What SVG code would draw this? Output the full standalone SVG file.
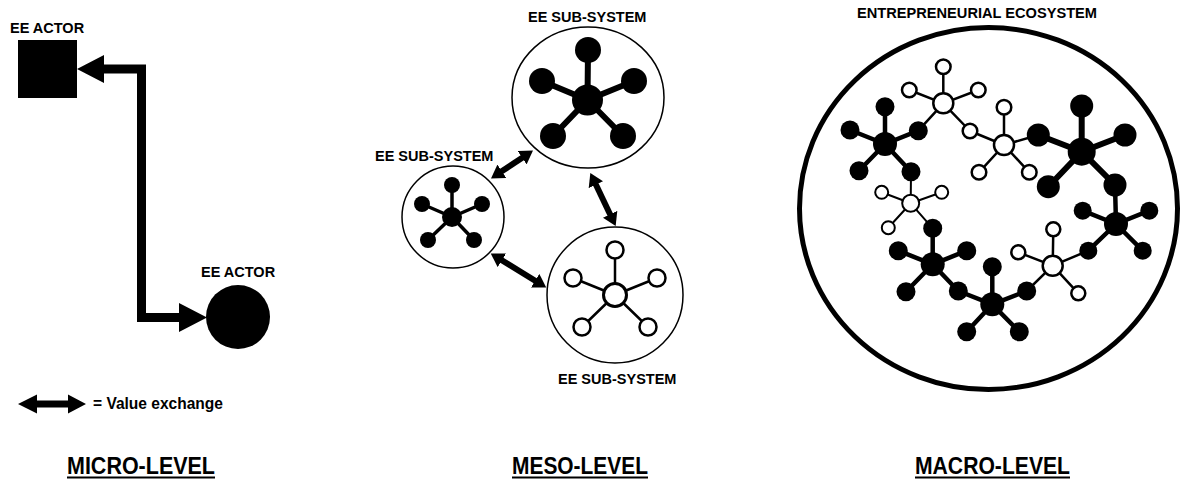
<svg xmlns="http://www.w3.org/2000/svg" width="1184" height="480" viewBox="0 0 1184 480">
  <defs>
    <style>
      .lbl { font-family: "Liberation Sans", Arial, sans-serif; font-weight: bold; font-size: 14.5px; fill: #000; }
      .lvl { font-family: "Liberation Sans", Arial, sans-serif; font-weight: bold; font-size: 23px; fill: #000; }
      .ring { fill: #fff; stroke: #000; stroke-width: 1.5; }
      .blk { fill: #000; }
      .wht { fill: #fff; stroke: #000; stroke-width: 2.5; }
      .sp-thick { stroke: #000; stroke-width: 4.5; stroke-linecap: round; fill: none; }
      .sp-big { stroke: #000; stroke-width: 6; stroke-linecap: round; fill: none; }
      .sp-thin { stroke: #000; stroke-width: 2.5; stroke-linecap: round; fill: none; }
      .sp-fine { stroke: #000; stroke-width: 2; stroke-linecap: round; fill: none; }
      .xchg { stroke: #000; stroke-width: 6; fill: none; marker-start: url(#head); marker-end: url(#head); }
    </style>
    <marker id="head" markerUnits="userSpaceOnUse" markerWidth="14" markerHeight="16" refX="1" refY="8" orient="auto-start-reverse" viewBox="0 0 14 16">
      <path d="M0,0 L13,8 L0,16 Z" fill="#000"/>
    </marker>
  </defs>

  <rect width="1184" height="480" fill="#fff"/>

  <!-- ===== MICRO LEVEL ===== -->
  <g id="micro-actor-square">
    <rect x="18" y="40" width="59" height="58" class="blk"/>
    <text class="lbl" x="10" y="33">EE ACTOR</text>
  </g>
  <g id="micro-actor-circle">
    <circle cx="238" cy="317" r="32" class="blk"/>
    <text class="lbl" x="201" y="277">EE ACTOR</text>
  </g>

  <g id="legend">
    <polygon points="18,404 37,394.5 37,400.5 68,400.5 68,394.5 86,404 68,413.5 68,407.5 37,407.5 37,413.5" fill="#000"/>
    <text class="lbl" x="93" y="409" style="font-size:16px" textLength="130" lengthAdjust="spacingAndGlyphs">= Value exchange</text>
  </g>

  <!-- ===== MESO LEVEL ===== -->
  <g id="meso-top">
    <ellipse cx="588" cy="97.5" rx="76" ry="70.5" class="ring"/>
    <g class="sp-big">
      <line x1="587.5" y1="100" x2="588" y2="50"/>
      <line x1="587.5" y1="100" x2="542" y2="81"/>
      <line x1="587.5" y1="100" x2="634" y2="81"/>
      <line x1="587.5" y1="100" x2="553" y2="136"/>
      <line x1="587.5" y1="100" x2="623" y2="136"/>
    </g>
    <circle cx="587.5" cy="100" r="15.5" class="blk"/>
    <circle cx="588" cy="50" r="13" class="blk"/>
    <circle cx="542" cy="81" r="13" class="blk"/>
    <circle cx="634" cy="81" r="13" class="blk"/>
    <circle cx="553" cy="136" r="13" class="blk"/>
    <circle cx="623" cy="136" r="13" class="blk"/>
    <text class="lbl" x="528" y="22">EE SUB-SYSTEM</text>
  </g>

  <g id="meso-left">
    <circle cx="453" cy="217" r="51" class="ring"/>
    <g class="sp-thick" style="stroke-width:3.5">
      <line x1="452" y1="217" x2="452" y2="185"/>
      <line x1="452" y1="217" x2="422" y2="204"/>
      <line x1="452" y1="217" x2="482" y2="204"/>
      <line x1="452" y1="217" x2="428" y2="240"/>
      <line x1="452" y1="217" x2="474" y2="240"/>
    </g>
    <circle cx="452" cy="217" r="10" class="blk"/>
    <circle cx="452" cy="185" r="8" class="blk"/>
    <circle cx="422" cy="204" r="8" class="blk"/>
    <circle cx="482" cy="204" r="8" class="blk"/>
    <circle cx="428" cy="240" r="8" class="blk"/>
    <circle cx="474" cy="240" r="8" class="blk"/>
    <text class="lbl" x="375" y="161">EE SUB-SYSTEM</text>
  </g>

  <g id="meso-bottom">
    <circle cx="615" cy="295" r="68" class="ring"/>
    <g class="sp-thin">
      <line x1="615" y1="295" x2="615" y2="250"/>
      <line x1="615" y1="295" x2="573" y2="278"/>
      <line x1="615" y1="295" x2="657" y2="278"/>
      <line x1="615" y1="295" x2="582" y2="327"/>
      <line x1="615" y1="295" x2="648" y2="327"/>
    </g>
    <circle cx="615" cy="295" r="11.5" class="wht" style="stroke-width:3"/>
    <circle cx="615" cy="250" r="8.5" class="wht"/>
    <circle cx="573" cy="278" r="8.5" class="wht"/>
    <circle cx="657" cy="278" r="8.5" class="wht"/>
    <circle cx="582" cy="327" r="8.5" class="wht"/>
    <circle cx="648" cy="327" r="8.5" class="wht"/>
    <text class="lbl" x="558" y="384">EE SUB-SYSTEM</text>
  </g>

  <!-- ===== MACRO LEVEL ===== -->
  <g id="ecosystem-boundary">
    <ellipse cx="988.5" cy="208.5" rx="189" ry="181" fill="none" stroke="#000" stroke-width="5"/>
    <text class="lbl" x="857" y="18" textLength="240" lengthAdjust="spacingAndGlyphs">ENTREPRENEURIAL ECOSYSTEM</text>
  </g>

  <!-- value-exchange arrows and links -->
  <g id="connectors">
    <polygon id="micro-exchange" fill="#000" points="77,69 104,55 104,64.5 146,64.5 146,313 179,313 179,303 207,317.5 179,332 179,322 137,322 137,73.5 104,73.5 104,83"/>
    <line class="xchg" x1="501" y1="171.8" x2="523" y2="157.2"/>
    <line class="xchg" x1="595.5" y1="183.8" x2="610.5" y2="215.2"/>
    <line class="xchg" x1="501" y1="259.8" x2="536" y2="281.2"/>

    <!-- spokes inside the ecosystem -->
    <g class="sp-thick">
      <!-- A -->
      <line x1="885" y1="144" x2="885" y2="106.7"/>
      <line x1="885" y1="144" x2="850" y2="130"/>
      <line x1="885" y1="144" x2="918.3" y2="130.7"/>
      <line x1="885" y1="144" x2="859" y2="170.7"/>
      <line x1="885" y1="144" x2="911" y2="171.7"/>
      <!-- E -->
      <line x1="1116" y1="224" x2="1115" y2="185"/>
      <line x1="1116" y1="224" x2="1082.7" y2="210.7"/>
      <line x1="1116" y1="224" x2="1149.3" y2="210.7"/>
      <line x1="1116" y1="224" x2="1088.3" y2="250.7"/>
      <line x1="1116" y1="224" x2="1142.7" y2="250.7"/>
      <!-- G -->
      <line x1="992.3" y1="304.3" x2="992.3" y2="266.7"/>
      <line x1="992.3" y1="304.3" x2="958.3" y2="291"/>
      <line x1="992.3" y1="304.3" x2="1026.7" y2="291"/>
      <line x1="992.3" y1="304.3" x2="966.7" y2="331.7"/>
      <line x1="992.3" y1="304.3" x2="1019.3" y2="331.7"/>
      <!-- H -->
      <line x1="932.7" y1="264.3" x2="932.7" y2="228.3"/>
      <line x1="932.7" y1="264.3" x2="898.3" y2="250.7"/>
      <line x1="932.7" y1="264.3" x2="966.7" y2="250.7"/>
      <line x1="932.7" y1="264.3" x2="906" y2="291.7"/>
      <line x1="932.7" y1="264.3" x2="958.3" y2="291"/>
    </g>
    <g class="sp-big">
      <!-- D -->
      <line x1="1081.7" y1="151.7" x2="1081.7" y2="106"/>
      <line x1="1081.7" y1="151.7" x2="1038.3" y2="135"/>
      <line x1="1081.7" y1="151.7" x2="1125" y2="135"/>
      <line x1="1081.7" y1="151.7" x2="1048.3" y2="186.7"/>
      <line x1="1081.7" y1="151.7" x2="1115" y2="185"/>
    </g>
    <g class="sp-thin">
      <!-- B -->
      <line x1="943.3" y1="103.3" x2="943.3" y2="66.7"/>
      <line x1="943.3" y1="103.3" x2="909.3" y2="90"/>
      <line x1="943.3" y1="103.3" x2="978.3" y2="90"/>
      <line x1="943.3" y1="103.3" x2="970" y2="131"/>
      <line x1="943.3" y1="103.3" x2="918.3" y2="130.7"/>
      <!-- C -->
      <line x1="1004" y1="145" x2="1004" y2="107.3"/>
      <line x1="1004" y1="145" x2="970" y2="131"/>
      <line x1="1004" y1="145" x2="979" y2="172.3"/>
      <line x1="1004" y1="145" x2="1029.3" y2="172.3"/>
      <line x1="1004" y1="145" x2="1038.3" y2="135"/>
      <!-- F -->
      <line x1="1052.7" y1="265.7" x2="1053.3" y2="229.3"/>
      <line x1="1052.7" y1="265.7" x2="1018.3" y2="252.3"/>
      <line x1="1052.7" y1="265.7" x2="1078.3" y2="293.3"/>
      <line x1="1052.7" y1="265.7" x2="1088.3" y2="250.7"/>
      <line x1="1052.7" y1="265.7" x2="1026.7" y2="291"/>
    </g>
    <g class="sp-fine">
      <!-- I -->
      <line x1="910.7" y1="203.3" x2="911" y2="171.7"/>
      <line x1="910.7" y1="203.3" x2="881.7" y2="192.3"/>
      <line x1="910.7" y1="203.3" x2="941.7" y2="192.3"/>
      <line x1="910.7" y1="203.3" x2="888.3" y2="227.7"/>
      <line x1="910.7" y1="203.3" x2="932.7" y2="228.3"/>
    </g>
  </g>

  <g id="cluster-a">
    <circle cx="885" cy="144" r="12" class="blk"/>
    <circle cx="885" cy="106.7" r="9.5" class="blk"/>
    <circle cx="850" cy="130" r="9.5" class="blk"/>
    <circle cx="918.3" cy="130.7" r="9.5" class="blk"/>
    <circle cx="859" cy="170.7" r="9.5" class="blk"/>
    <circle cx="911" cy="171.7" r="9.5" class="blk"/>
  </g>
  <g id="cluster-b">
    <circle cx="943.3" cy="103.3" r="10" class="wht"/>
    <circle cx="943.3" cy="66.7" r="7.3" class="wht"/>
    <circle cx="909.3" cy="90" r="7.3" class="wht"/>
    <circle cx="978.3" cy="90" r="7.3" class="wht"/>
    <circle cx="970" cy="131" r="7.3" class="wht"/>
  </g>
  <g id="cluster-c">
    <circle cx="1004" cy="145" r="10" class="wht"/>
    <circle cx="1004" cy="107.3" r="7.3" class="wht"/>
    <circle cx="979" cy="172.3" r="7.3" class="wht"/>
    <circle cx="1029.3" cy="172.3" r="7.3" class="wht"/>
  </g>
  <g id="cluster-d">
    <circle cx="1081.7" cy="151.7" r="14" class="blk"/>
    <circle cx="1081.7" cy="106" r="11.5" class="blk"/>
    <circle cx="1038.3" cy="135" r="11.5" class="blk"/>
    <circle cx="1125" cy="135" r="11.5" class="blk"/>
    <circle cx="1048.3" cy="186.7" r="11.5" class="blk"/>
    <circle cx="1115" cy="185" r="11.5" class="blk"/>
  </g>
  <g id="cluster-e">
    <circle cx="1116" cy="224" r="12" class="blk"/>
    <circle cx="1082.7" cy="210.7" r="9" class="blk"/>
    <circle cx="1149.3" cy="210.7" r="9" class="blk"/>
    <circle cx="1088.3" cy="250.7" r="9" class="blk"/>
    <circle cx="1142.7" cy="250.7" r="9" class="blk"/>
  </g>
  <g id="cluster-f">
    <circle cx="1052.7" cy="265.7" r="10" class="wht"/>
    <circle cx="1053.3" cy="229.3" r="7" class="wht"/>
    <circle cx="1018.3" cy="252.3" r="7" class="wht"/>
    <circle cx="1078.3" cy="293.3" r="7" class="wht"/>
  </g>
  <g id="cluster-g">
    <circle cx="992.3" cy="304.3" r="12" class="blk"/>
    <circle cx="992.3" cy="266.7" r="9.5" class="blk"/>
    <circle cx="958.3" cy="291" r="9.5" class="blk"/>
    <circle cx="1026.7" cy="291" r="9.5" class="blk"/>
    <circle cx="966.7" cy="331.7" r="9.5" class="blk"/>
    <circle cx="1019.3" cy="331.7" r="9.5" class="blk"/>
  </g>
  <g id="cluster-h">
    <circle cx="932.7" cy="264.3" r="12" class="blk"/>
    <circle cx="932.7" cy="228.3" r="9.5" class="blk"/>
    <circle cx="898.3" cy="250.7" r="9.5" class="blk"/>
    <circle cx="966.7" cy="250.7" r="9.5" class="blk"/>
    <circle cx="906" cy="291.7" r="9.5" class="blk"/>
  </g>
  <g id="cluster-i">
    <circle cx="910.7" cy="203.3" r="8.5" class="wht" style="stroke-width:2"/>
    <circle cx="881.7" cy="192.3" r="6.5" class="wht" style="stroke-width:2"/>
    <circle cx="941.7" cy="192.3" r="6.5" class="wht" style="stroke-width:2"/>
    <circle cx="888.3" cy="227.7" r="6.5" class="wht" style="stroke-width:2"/>
  </g>

  <!-- ===== LEVEL TITLES ===== -->
  <g id="titles">
    <text class="lvl" x="67" y="474" textLength="148" lengthAdjust="spacingAndGlyphs">MICRO-LEVEL</text>
    <rect x="67" y="476.5" width="148" height="2" fill="#000"/>
    <text class="lvl" x="512" y="474" textLength="136" lengthAdjust="spacingAndGlyphs">MESO-LEVEL</text>
    <rect x="512" y="476.5" width="136" height="2" fill="#000"/>
    <text class="lvl" x="915" y="474" textLength="155" lengthAdjust="spacingAndGlyphs">MACRO-LEVEL</text>
    <rect x="915" y="476.5" width="155" height="2" fill="#000"/>
  </g>
</svg>
